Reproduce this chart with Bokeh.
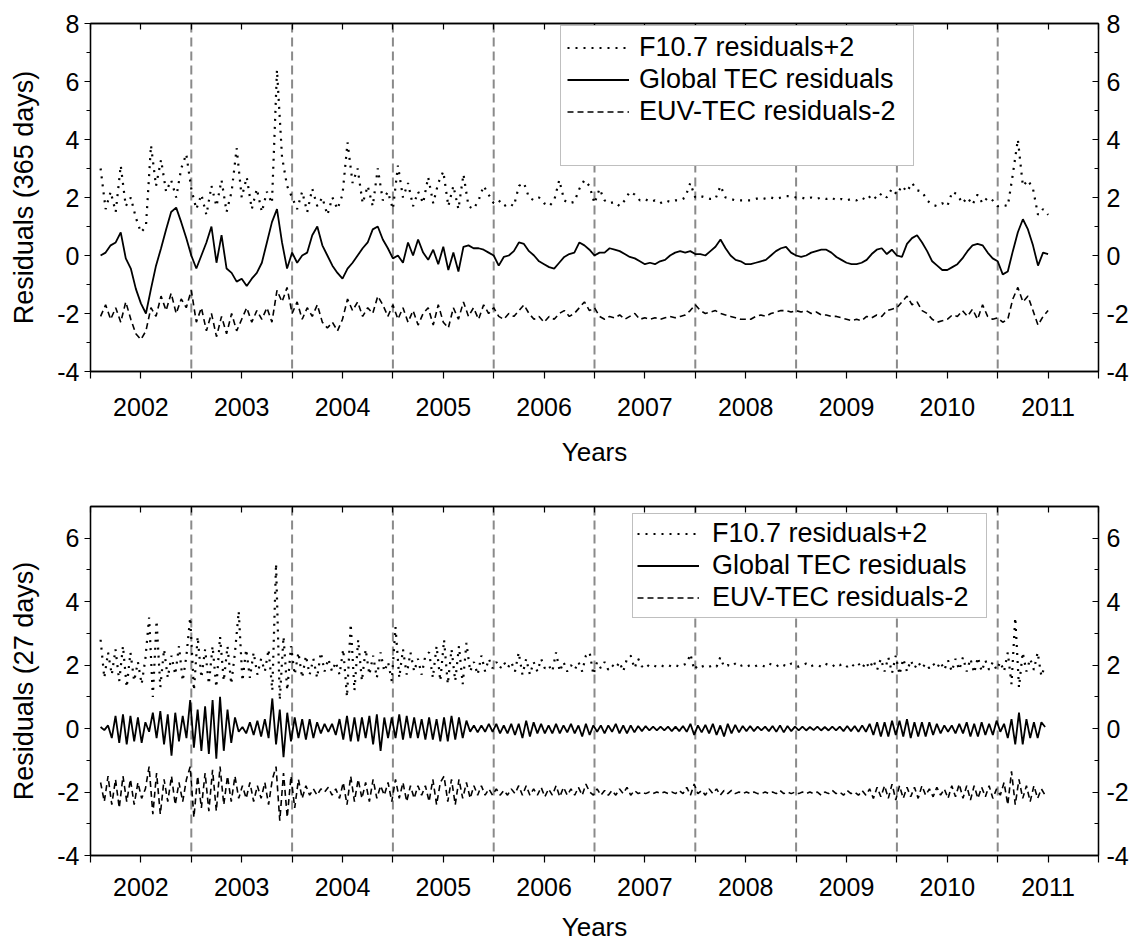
import numpy as np
from bokeh.plotting import figure
from bokeh.models import (LinearAxis, FixedTicker, Span, Legend, LegendItem,
                          Range1d, CustomJSTickFormatter)
from bokeh.layouts import column
from bokeh.embed import file_html
from bokeh.resources import INLINE

FONT = "Liberation Sans"

# ---------------- axis data ----------------
year_ticks = [2002, 2003, 2004, 2005, 2006, 2007, 2008, 2009, 2010, 2011]
half_year_ticks = [2001.5, 2002.5, 2003.5, 2004.5, 2005.5, 2006.5, 2007.5,
                   2008.5, 2009.5, 2010.5, 2011.5]
year_boundaries = [2002.5, 2003.5, 2004.5, 2005.5, 2006.5, 2007.5, 2008.5,
                   2009.5, 2010.5]
series_names = ["F10.7 residuals+2", "Global TEC residuals", "EUV-TEC residuals-2"]

# ---------------- top panel (365 days) ----------------
top_start, top_step = 2001.6, 0.05
top_f107 = [
    3.0, 1.6, 2.2, 1.5, 3.1, 1.7, 2.0, 1.3, 0.8, 1.0,
    3.8, 2.4, 3.3, 2.2, 2.6, 2.0, 3.0, 3.5, 2.3, 1.6,
    2.1, 1.4, 2.4, 1.7, 2.6, 1.5, 2.2, 3.7, 2.0, 2.7,
    1.6, 2.3, 1.5, 2.2, 1.8, 6.4, 3.4, 2.4, 2.0, 1.6,
    2.2, 1.5, 2.3, 1.7, 2.0, 1.4, 2.0, 1.6, 2.1, 3.9,
    2.5, 3.0, 1.8, 2.4, 1.7, 3.0, 1.9, 2.2, 1.6, 3.1,
    2.0, 2.5, 1.7, 2.2, 1.8,
    2.7, 1.8, 2.5, 2.9, 1.7, 2.4, 1.6, 2.8, 1.7, 1.6,
    1.9, 2.4, 2.1, 1.8, 1.9, 1.7, 1.8, 1.7, 2.4, 2.5,
    2.0, 1.9, 2.0, 1.8, 1.7, 1.9, 2.6, 1.9, 1.8, 1.85,
    2.3, 2.6, 2.4, 1.8, 2.3, 1.9, 1.8, 1.85, 1.7, 1.9,
    2.2, 2.1, 1.9, 1.95, 1.85, 1.9, 1.8, 1.9, 1.85, 1.9,
    1.9, 2.0, 2.5, 2.0, 2.05, 2.0, 1.95, 1.95, 2.4, 2.0,
    1.95, 1.9, 1.9, 1.9, 1.9,
    1.95, 2.0, 1.95, 2.0, 1.95, 2.0, 2.05, 2.05, 2.0, 2.0,
    1.95, 2.0, 1.95, 2.0, 1.95, 2.0, 1.9, 1.95, 1.9, 1.95,
    1.9, 2.0, 1.9, 2.1, 1.95, 2.15, 2.0, 2.3, 2.1, 2.4,
    2.2, 2.5, 2.25, 2.2, 1.9, 1.75, 1.7, 1.8, 1.7, 2.2,
    2.1, 1.8, 2.0, 1.75, 2.1, 1.8, 2.0, 1.9, 1.7, 1.75,
    1.7, 2.8, 4.0, 2.4, 2.6, 2.3, 1.4, 1.6, 1.4,
]
top_tec = [
    0.0, 0.1, 0.35, 0.45, 0.8, -0.1, -0.45, -1.15, -1.65, -2.0,
    -1.15, -0.35, 0.25, 0.9, 1.5, 1.65, 1.15, 0.6, 0.0, -0.45,
    0.0, 0.45, 1.0, -0.25, 0.7, -0.45, -0.6, -0.9, -0.8, -1.05,
    -0.8, -0.6, -0.25, 0.45, 1.15, 1.6, 0.45, -0.45, 0.1, -0.25,
    0.0, 0.1, 0.7, 1.0, 0.35, 0.0, -0.35, -0.6, -0.8, -0.45,
    -0.25, 0.0, 0.25, 0.45, 0.9, 1.0, 0.55, 0.25, -0.1, 0.0,
    -0.25, 0.45, 0.0, 0.55, 0.1,
    -0.15, 0.2, -0.3, 0.3, -0.5, 0.1, -0.55, 0.3, 0.35, 0.25,
    0.25, 0.2, 0.1, 0.0, -0.35, -0.05, 0.0, 0.15, 0.45, 0.4,
    0.15, 0.0, -0.2, -0.3, -0.4, -0.45, -0.25, -0.05, 0.05, 0.1,
    0.45, 0.35, 0.2, 0.0, 0.1, 0.1, 0.25, 0.2, 0.15, 0.05,
    -0.05, -0.1, -0.2, -0.3, -0.25, -0.3, -0.2, -0.15, 0.0, 0.1,
    0.15, 0.1, 0.15, 0.05, 0.05, 0.0, 0.15, 0.3, 0.55, 0.25,
    0.0, -0.15, -0.2, -0.3, -0.3,
    -0.25, -0.2, -0.15, 0.0, 0.15, 0.25, 0.3, 0.1, 0.0, -0.05,
    0.0, 0.1, 0.15, 0.2, 0.2, 0.1, -0.05, -0.15, -0.25, -0.3,
    -0.3, -0.25, -0.15, 0.05, 0.2, 0.25, 0.05, 0.2, 0.0, -0.05,
    0.4, 0.6, 0.7, 0.45, 0.15, -0.2, -0.35, -0.5, -0.5, -0.4,
    -0.3, -0.1, 0.15, 0.35, 0.4, 0.35, 0.1, -0.1, -0.2, -0.65,
    -0.55, 0.15, 0.8, 1.25, 0.9, 0.35, -0.35, 0.1, 0.05,
]
top_euv = [
    -2.1, -1.7, -2.2, -1.8, -2.3, -1.6, -2.2, -2.7, -2.9, -2.6,
    -1.8, -2.1, -1.4, -1.9, -1.3, -2.0, -1.5, -1.8, -1.2, -2.3,
    -1.8, -2.6, -2.0, -2.8, -2.1, -2.7, -2.0, -2.6, -2.2, -1.8,
    -2.3, -1.9, -2.2, -1.8, -2.3, -1.2, -1.6, -1.1, -2.0, -1.6,
    -2.2, -1.8, -2.1, -1.7, -2.3, -2.5, -2.3, -2.6, -2.2, -1.5,
    -1.9, -1.6, -2.1, -1.8, -2.0, -1.4, -1.7, -2.1, -1.7, -2.2,
    -1.8, -2.3, -1.9, -2.4, -2.0,
    -1.8, -2.4, -1.7, -2.3, -2.5, -1.8, -2.2, -1.6, -2.1, -1.8,
    -2.2, -1.7, -2.0, -1.8, -2.1, -2.2, -2.0, -2.1, -1.9, -1.7,
    -2.0, -2.2, -2.1, -2.3, -2.1, -2.2, -2.0, -1.9, -2.1, -2.0,
    -1.8, -1.6, -1.9, -1.8, -2.1, -2.2, -2.1, -2.15, -2.05, -2.2,
    -2.1, -2.0, -2.2, -2.15, -2.2, -2.15, -2.2, -2.15, -2.1, -2.15,
    -2.1, -2.05, -1.9, -1.7, -1.9, -2.0, -1.95, -1.9, -2.0, -2.05,
    -2.1, -2.15, -2.2, -2.2, -2.2,
    -2.1, -2.05, -2.1, -2.0, -1.95, -1.9, -1.9, -1.95, -1.9, -1.95,
    -1.9, -2.0, -1.95, -2.05, -2.05, -2.1, -2.1, -2.15, -2.2, -2.25,
    -2.2, -2.25, -2.1, -2.15, -2.05, -2.1, -1.9, -1.85, -1.8, -1.6,
    -1.4, -1.7, -1.6, -1.9, -2.0, -2.2, -2.3, -2.25, -2.2, -2.05,
    -2.1, -1.9, -2.1, -1.85, -2.2, -1.7, -2.1, -2.2, -2.15, -2.3,
    -2.2, -1.5, -1.1, -1.6, -1.4, -1.9, -2.4, -2.1, -1.9,
]

# ---------------- bottom panel (27 days) ----------------
bot_start, bot_step = 2001.6, 1.0 / 27.0
bot_f107 = [
    2.8, 1.6, 2.4, 1.7, 2.5, 1.5, 2.6, 1.3, 2.4, 1.5,
    2.1, 1.4, 2.2, 3.5, 1.0, 3.4, 1.3, 2.5, 1.6, 2.3,
    1.7, 2.6, 1.5, 2.3, 3.5, 1.2, 2.9, 1.6, 2.5, 1.4,
    2.6, 1.3, 2.9, 1.5, 2.6, 1.4, 2.4, 3.7, 1.5, 2.5,
    1.6, 2.4, 1.7, 2.2, 1.8, 2.5, 1.2, 5.2, 0.9, 2.9,
    1.2, 2.6, 1.7, 2.4, 1.6, 2.3, 1.7, 2.2, 1.6, 2.4,
    1.8, 2.2, 1.8, 2.1, 1.7, 2.5, 1.0, 3.3, 1.2, 2.8,
    1.5, 2.5, 1.7, 2.3, 1.6, 2.4, 1.8, 2.1, 1.5, 3.2,
    1.6, 2.5, 1.7, 2.4, 1.8, 2.2, 1.7, 2.3, 2.4, 1.6,
    2.6, 1.5, 2.8, 1.4, 2.5, 1.5, 2.6, 1.4, 2.7, 1.8,
    2.1, 1.7, 2.3, 1.8, 2.2, 1.9, 2.1, 1.9, 2.1, 1.9,
    2.1, 1.8, 2.4, 1.7, 2.2, 1.7, 2.1, 1.8, 2.2, 1.9,
    2.0, 1.8, 2.4, 1.8, 2.1, 1.8, 2.0, 1.85, 2.1, 1.8,
    2.3, 2.4, 1.7, 2.1, 1.9, 2.1, 1.85, 2.0, 1.9, 2.1,
    1.8, 2.2, 2.3, 1.9, 2.2, 1.95, 2.05, 1.95, 2.0, 1.95,
    2.0, 1.95, 2.0, 1.95, 2.0, 1.95, 2.0, 2.05, 2.35, 1.85,
    2.0, 1.95, 2.0, 1.95, 2.0, 1.95, 2.25, 1.95, 2.0, 1.95,
    2.05, 1.95, 2.0, 1.95, 2.0, 1.95, 2.0, 2.0, 1.95, 2.05,
    2.0, 1.95, 2.05, 2.0, 1.95, 2.05, 2.0, 1.95, 2.0, 2.05,
    1.95, 2.0, 2.0, 1.95, 2.05, 2.0, 1.95, 2.05, 2.0, 2.05,
    1.95, 2.05, 1.95, 2.05, 1.9, 2.1, 1.9, 2.15, 1.85, 2.2,
    1.8, 2.25, 1.75, 2.3, 1.7, 2.2, 1.8, 2.15, 1.9, 2.1,
    1.9, 2.05, 1.9, 2.05, 1.9, 2.1, 1.85, 2.15, 1.8, 2.2,
    1.85, 2.25, 1.8, 2.2, 1.75, 2.25, 1.8, 2.15, 1.85, 2.1,
    1.85, 2.1, 1.8, 2.4, 1.4, 3.5, 1.3, 2.4, 1.8, 2.2,
    1.85, 2.4, 1.65, 2.0,
]
bot_tec = [
    0.05, -0.05, 0.1, -0.3, 0.4, -0.45, 0.45, -0.5, 0.4, -0.4,
    0.35, -0.45, 0.2, -0.1, 0.5, -0.3, 0.55, -0.5, 0.45, -0.85,
    0.5, -0.4, 0.4, -0.3, 0.9, -0.6, 0.6, -0.7, 0.7, -0.8,
    0.9, -0.95, 1.0, -0.7, 0.6, -0.45, 0.35, -0.1, 0.05, -0.15,
    0.2, -0.2, 0.25, -0.25, 0.3, -0.3, 0.95, -0.5, 0.6, -0.9,
    0.5, -0.4, 0.35, -0.3, 0.3, -0.35, 0.3, -0.3, 0.2, -0.15,
    0.15, -0.1, 0.15, -0.2, 0.3, -0.35, 0.4, -0.4, 0.35, -0.4,
    0.35, -0.3, 0.4, -0.5, 0.45, -0.7, 0.35, -0.3, 0.35, -0.3,
    0.45, -0.35, 0.4, -0.3, 0.35, -0.3, 0.3, -0.35, 0.35, -0.35,
    0.3, -0.4, 0.35, -0.4, 0.4, -0.35, 0.35, -0.3, 0.25, -0.1,
    0.1, -0.12, 0.1, -0.1, 0.15, -0.1, 0.15, -0.15, 0.1, -0.15,
    0.15, -0.2, 0.15, -0.3, 0.25, -0.25, 0.2, -0.15, 0.15, -0.15,
    0.1, -0.15, 0.15, -0.15, 0.1, -0.12, 0.15, -0.15, 0.1, -0.25,
    0.15, -0.2, 0.1, -0.1, 0.1, -0.15, 0.1, -0.1, 0.15, -0.15,
    0.1, -0.15, 0.1, -0.12, 0.08, -0.08, 0.08, -0.06, 0.06, -0.06,
    0.06, -0.06, 0.06, -0.08, 0.06, -0.08, 0.08, -0.1, 0.15, -0.2,
    0.1, -0.12, 0.12, -0.15, 0.15, -0.2, 0.1, -0.25, 0.15, -0.15,
    0.12, -0.12, 0.08, -0.08, 0.08, -0.08, 0.06, -0.06, 0.06, -0.08,
    0.08, -0.1, 0.1, -0.12, 0.08, -0.08, 0.06, -0.06, 0.06, -0.06,
    0.05, -0.05, 0.06, -0.06, 0.05, -0.06, 0.06, -0.06, 0.06, -0.08,
    0.08, -0.08, 0.08, -0.1, 0.1, -0.1, 0.15, -0.2, 0.2, -0.25,
    0.2, -0.25, 0.25, -0.2, 0.25, -0.25, 0.3, -0.3, 0.2, -0.25,
    0.2, -0.25, 0.2, -0.2, 0.15, -0.15, 0.1, -0.1, 0.1, -0.15,
    0.15, -0.15, 0.2, -0.25, 0.15, -0.25, 0.2, -0.2, 0.15, -0.2,
    0.25, -0.1, 0.15, -0.3, 0.3, -0.5, 0.5, -0.5, 0.3, -0.3,
    0.2, -0.3, 0.2, 0.05,
]
bot_euv = [
    -1.7, -2.3, -1.5, -2.4, -1.6, -2.5, -1.5, -2.3, -1.6, -2.4,
    -1.7, -2.2, -1.9, -1.2, -2.7, -1.4, -2.7, -1.6, -2.3, -1.5,
    -2.4, -1.7, -2.3, -1.6, -1.2, -2.8, -1.5, -2.5, -1.4, -2.6,
    -1.3, -2.6, -1.2, -2.4, -1.5, -2.3, -1.5, -2.2, -1.8, -2.2,
    -1.7, -2.3, -1.8, -2.2, -1.7, -2.4, -1.6, -1.2, -2.9, -1.4,
    -2.8, -1.5, -2.5, -1.6, -2.2, -1.8, -2.1, -1.9, -2.1, -1.9,
    -2.0, -1.85, -2.1, -1.9, -2.2, -1.7, -2.4, -1.5, -2.3, -1.6,
    -2.2, -1.7, -2.3, -1.6, -2.2, -1.8, -2.1, -1.7, -2.3, -1.6,
    -2.2, -1.7, -2.3, -1.8, -2.2, -1.8, -2.1, -1.8, -2.3, -1.6,
    -2.4, -1.7, -1.5, -2.3, -1.6, -2.4, -1.6, -2.2, -1.7, -2.2,
    -1.8, -2.1, -1.8, -2.1, -1.9, -2.1, -1.9, -2.1, -1.95, -2.1,
    -1.9, -2.05, -1.8, -2.1, -1.8, -2.1, -1.9, -2.1, -1.85, -2.15,
    -1.9, -2.1, -1.8, -2.15, -1.85, -2.1, -1.9, -2.1, -1.85, -2.1,
    -1.75, -2.0, -2.1, -1.9, -2.1, -1.95, -2.1, -1.95, -2.1, -1.9,
    -2.05, -1.85, -2.1, -1.95, -2.05, -2.0, -2.05, -2.0, -2.05, -2.0,
    -2.05, -2.0, -2.05, -2.0, -2.05, -1.95, -2.05, -1.85, -2.1, -1.75,
    -2.05, -1.95, -2.1, -1.9, -2.05, -1.9, -2.1, -1.95, -2.05, -1.95,
    -2.05, -2.0, -2.05, -2.0, -2.05, -2.0, -2.05, -2.05, -2.0, -2.05,
    -2.0, -2.05, -1.95, -2.05, -2.0, -2.05, -2.0, -2.05, -2.0, -2.05,
    -2.0, -2.05, -2.0, -2.1, -2.0, -2.05, -1.95, -2.05, -2.0, -2.1,
    -1.95, -2.05, -2.0, -2.1, -1.95, -2.1, -1.9, -2.2, -1.85, -2.15,
    -1.8, -2.2, -1.75, -2.25, -1.8, -2.2, -1.85, -2.15, -1.85, -2.2,
    -1.8, -2.1, -1.9, -2.15, -1.85, -2.1, -1.9, -2.2, -1.8, -2.15,
    -1.75, -2.2, -1.8, -2.25, -1.8, -2.2, -1.85, -2.15, -1.8, -2.2,
    -1.9, -2.1, -1.7, -2.4, -1.35, -2.4, -1.6, -2.2, -1.8, -2.3,
    -1.8, -2.2, -1.9, -2.1,
]


def series_x(start, step, vals):
    return start + step * np.arange(len(vals))


def style_axis(ax, tin, tout, min_in, min_out):
    ax.axis_line_color = "black"
    ax.axis_line_width = 1.3
    ax.major_tick_line_color = "black"
    ax.minor_tick_line_color = "black"
    ax.major_tick_line_width = 1.2
    ax.minor_tick_line_width = 1.2
    ax.major_tick_in = tin
    ax.major_tick_out = tout
    ax.minor_tick_in = min_in
    ax.minor_tick_out = min_out
    ax.major_label_text_font = FONT
    ax.major_label_text_font_size = "25px"
    ax.major_label_text_color = "black"


def build_panel(height, y0, y1, y_major, y_minor, ylabel, border_top,
                border_bottom, tick_standoff, xlabel_standoff, start, step,
                f107, tec, euv, legend_xy, blank_row, padding, spacing,
                lab_standoff, lab_width):
    p = figure(width=1136, height=height,
               x_range=Range1d(2001.5, 2011.5), y_range=Range1d(y0, y1),
               output_backend="svg", toolbar_location=None,
               min_border_left=90, min_border_right=38,
               min_border_top=border_top, min_border_bottom=border_bottom)
    p.xgrid.visible = False
    p.ygrid.visible = False
    p.outline_line_color = "black"
    p.outline_line_width = 1.3
    p.background_fill_color = "white"
    p.border_fill_color = "white"

    for b in year_boundaries:
        p.add_layout(Span(location=b, dimension="height", line_color="#8a8a8a",
                          line_width=2, line_dash="9 5", level="underlay"))

    r_f = p.line(series_x(start, step, f107), f107, line_color="black",
                 line_width=2.2, line_dash="2 6")
    r_t = p.line(series_x(start, step, tec), tec, line_color="black",
                 line_width=1.8)
    r_e = p.line(series_x(start, step, euv), euv, line_color="black",
                 line_width=1.6, line_dash="6 4")

    # bottom axis
    xa = p.xaxis[0]
    xa.ticker = FixedTicker(ticks=year_ticks, minor_ticks=half_year_ticks)
    style_axis(xa, 0, 7, 0, 7)
    xa.major_label_standoff = tick_standoff
    xa.axis_label = "Years"
    xa.axis_label_text_font = FONT
    xa.axis_label_text_font_size = "26px"
    xa.axis_label_text_font_style = "normal"
    xa.axis_label_text_color = "black"
    xa.axis_label_standoff = xlabel_standoff

    # left axis
    ya = p.yaxis[0]
    ya.ticker = FixedTicker(ticks=y_major, minor_ticks=y_minor)
    ya.formatter = CustomJSTickFormatter(code="return tick.toFixed(0)")
    style_axis(ya, 0, 6, 0, 4)
    ya.major_label_standoff = 5
    ya.axis_label = ylabel
    ya.axis_label_text_font = FONT
    ya.axis_label_text_font_size = "27px"
    ya.axis_label_text_font_style = "normal"
    ya.axis_label_text_color = "black"
    ya.axis_label_standoff = 15

    # right axis
    ra = LinearAxis(ticker=FixedTicker(ticks=y_major, minor_ticks=y_minor),
                    formatter=CustomJSTickFormatter(code="return tick.toFixed(0)"))
    style_axis(ra, 6, 0, 4, 0)
    ra.major_label_standoff = 8
    p.add_layout(ra, "right")

    # top axis (ticks only)
    ta = LinearAxis(ticker=FixedTicker(ticks=year_ticks, minor_ticks=half_year_ticks),
                    formatter=CustomJSTickFormatter(code="return ''"))
    style_axis(ta, 6, 0, 6, 0)
    ta.major_label_standoff = 0
    ta.major_label_text_font_size = "1px"
    p.add_layout(ta, "above")

    items = [LegendItem(label=series_names[0], renderers=[r_f]),
             LegendItem(label=series_names[1], renderers=[r_t]),
             LegendItem(label=series_names[2], renderers=[r_e])]
    if blank_row:
        dummy = p.line([2001.5, 2001.5], [y0, y0], line_alpha=0)
        items.append(LegendItem(label=" ", renderers=[dummy]))
    leg = Legend(items=items, location=legend_xy,
                 border_line_color="#808080", border_line_width=1.5,
                 background_fill_color="white", background_fill_alpha=1.0,
                 label_text_font=FONT, label_text_font_size="27px",
                 label_text_color="black",
                 glyph_width=62, glyph_height=31, label_height=31,
                 label_width=lab_width,
                 label_standoff=lab_standoff, padding=padding, spacing=spacing,
                 margin=0)
    p.add_layout(leg)
    return p


p1 = build_panel(478, -4, 8, [-4, -2, 0, 2, 4, 6, 8], [-3, -1, 1, 3, 5, 7],
                 "Residuals (365 days)", 23, 107, 19, 18,
                 top_start, top_step, top_f107, top_tec, top_euv,
                 (470, 205), True, 6, 1, 10, 268)
p2 = build_panel(470, -4, 7, [-4, -2, 0, 2, 4, 6], [-3, -1, 1, 3, 5],
                 "Residuals (27 days)", 28, 93, 15, 13,
                 bot_start, bot_step, bot_f107, bot_tec, bot_euv,
                 (542, 237), False, 4, 1, 13, 270)

layout = column(p1, p2)
open("out.html", "w").write(file_html(layout, INLINE))
